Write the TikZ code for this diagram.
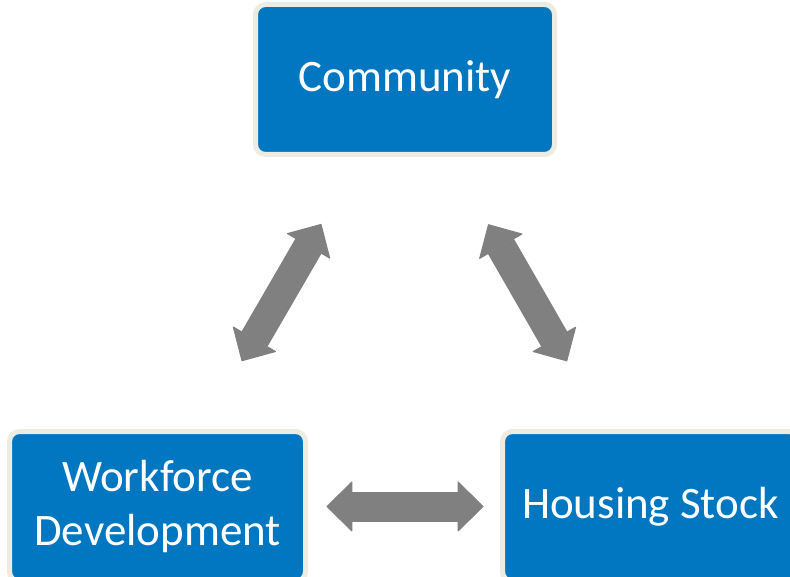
\documentclass[tikz,border=0pt]{standalone}
\usepackage{fontspec}
\setmainfont{Carlito}
\usetikzlibrary{arrows.meta}
\definecolor{boxblue}{HTML}{0077C0}
\definecolor{boxrim}{HTML}{EEECE1}
\definecolor{arrowgray}{HTML}{808080}
\begin{document}
\begin{tikzpicture}[x=1pt,y=-1pt,
  box/.style={draw=boxrim, line width=5pt, fill=boxblue, rounded corners=10pt,
    minimum width=296pt, minimum height=150pt, inner sep=0pt, text=white,
    font=\fontsize{45}{54}\selectfont, align=center},
  blocktip/.tip={Triangle[length=26pt,width=51pt,line width=1pt,round]},
  link/.style={draw=arrowgray, fill=arrowgray, line width=30pt, blocktip-blocktip}]
\useasboundingbox (0,0) rectangle (790,577);
\clip (0,0) rectangle (790,577);
\fill[white] (0,0) rectangle (790,577);
\node[box, minimum width=299pt] (comm) at (405,79.5) {Community};
\node[box] (work) at (157.5,506.5) {Workforce\\Development};
\node[box] (house) at (650.5,506.5) {Housing Stock};
\draw[link, shorten <=167pt, shorten >=168pt] (comm.center) -- (work.center);
\draw[link, shorten <=167pt, shorten >=167.5pt] (comm.center) -- (house.center);
\draw[link, shorten <=169pt, shorten >=167pt] (work.center) -- (house.center);
\end{tikzpicture}
\end{document}
